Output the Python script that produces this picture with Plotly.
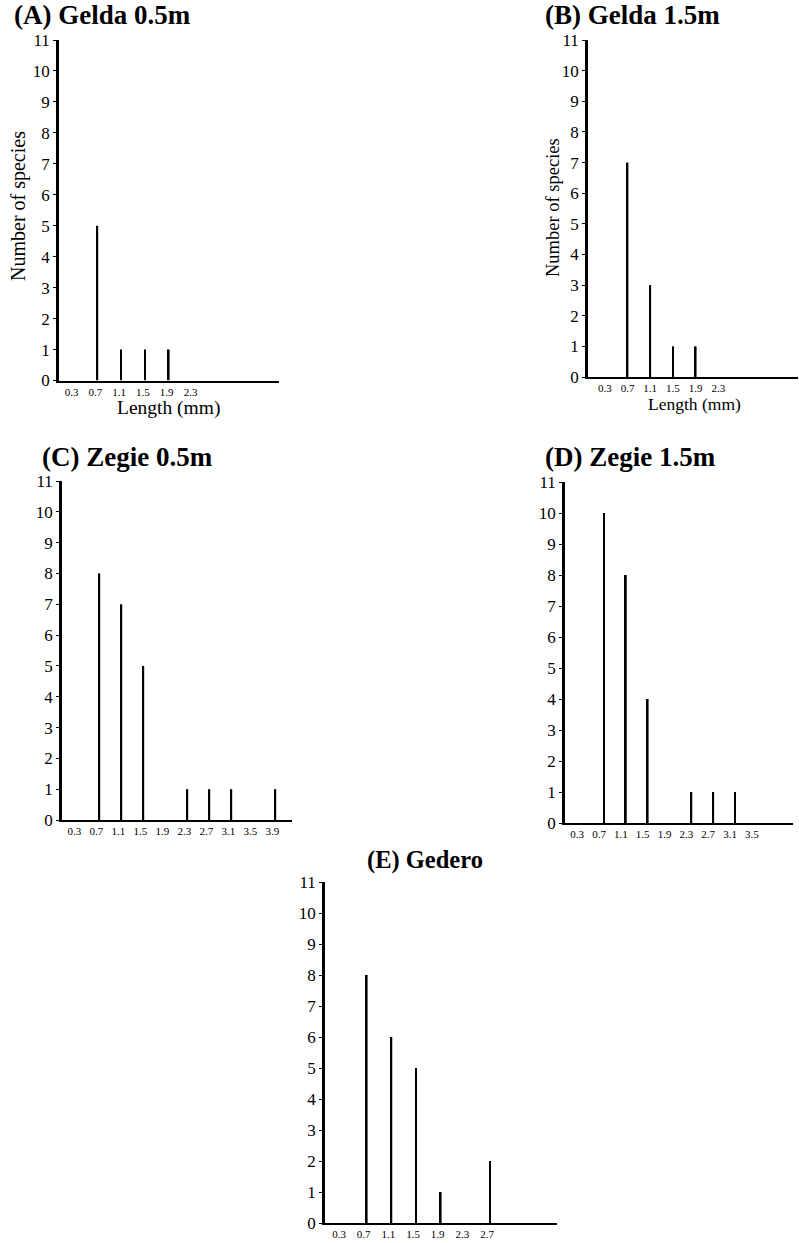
import plotly.graph_objects as go

W, H = 799, 1243

# ---------------- data ----------------
titles = ["(A) Gelda 0.5m", "(B) Gelda 1.5m", "(C) Zegie 0.5m", "(D) Zegie 1.5m", "(E) Gedero"]

a_length = [0.7, 1.1, 1.5, 1.9]
a_count = [5, 1, 1, 1]
b_length = [0.7, 1.1, 1.5, 1.9]
b_count = [7, 3, 1, 1]
c_length = [0.7, 1.1, 1.5, 2.3, 2.7, 3.1, 3.9]
c_count = [8, 7, 5, 1, 1, 1, 1]
d_length = [0.7, 1.1, 1.5, 2.3, 2.7, 3.1]
d_count = [10, 8, 4, 1, 1, 1]
e_length = [0.7, 1.1, 1.5, 1.9, 2.7]
e_count = [8, 6, 5, 1, 2]

ticks_ab = ["0.3", "0.7", "1.1", "1.5", "1.9", "2.3"]
ticks_c = ["0.3", "0.7", "1.1", "1.5", "1.9", "2.3", "2.7", "3.1", "3.5", "3.9"]
ticks_d = ["0.3", "0.7", "1.1", "1.5", "1.9", "2.3", "2.7", "3.1", "3.5"]
ticks_e = ["0.3", "0.7", "1.1", "1.5", "1.9", "2.3", "2.7"]
y_ticks = list(range(0, 12))

y_title = "Number of species"
x_title = "Length (mm)"

# ---------------- layout geometry (pixels) ----------------
panels = [
    dict(l=59, r=279, t=40, b=380.5, ppu=59.5, p07=97.3, shift=-2, x=a_length, y=a_count, ticks=ticks_ab),
    dict(l=588, r=798, t=40, b=377, ppu=56.8, p07=627.5, shift=0, x=b_length, y=b_count, ticks=ticks_ab),
    dict(l=62, r=292, t=481, b=820, ppu=55.0, p07=99.3, shift=-3, x=c_length, y=c_count, ticks=ticks_c),
    dict(l=565, r=793, t=482, b=823, ppu=54.6, p07=604, shift=-5, x=d_length, y=d_count, ticks=ticks_d),
    dict(l=325, r=557, t=882, b=1223, ppu=61.65, p07=366.7, shift=-3, x=e_length, y=e_count, ticks=ticks_e),
]

SERIF = "Liberation Serif, Times New Roman, serif"

fig = go.Figure()
layout = dict(
    width=W, height=H, margin=dict(l=0, r=0, t=0, b=0, pad=0),
    paper_bgcolor="white", plot_bgcolor="white", showlegend=False,
    font=dict(family=SERIF, color="black"),
)

for i, p in enumerate(panels, start=1):
    xs = "" if i == 1 else str(i)
    x0 = 0.7 - (p["p07"] - p["l"]) / p["ppu"]
    x1 = 0.7 + (p["r"] - p["p07"]) / p["ppu"]
    fig.add_trace(go.Bar(
        x=p["x"], y=p["y"], width=1.8 / p["ppu"],
        marker=dict(color="black", line=dict(width=0)),
        xaxis="x" + xs, yaxis="y" + xs, hoverinfo="x+y",
    ))
    tickvals = [float(t) for t in p["ticks"]]
    layout["xaxis" + xs] = dict(
        domain=[p["l"] / W, p["r"] / W], anchor="y" + xs, range=[x0, x1],
        showgrid=False, zeroline=False, showline=True, linecolor="black", linewidth=2,
        tickvals=tickvals, ticktext=p["ticks"], ticks="", ticklabelshift=p["shift"],
        tickfont=dict(family=SERIF, size=11, color="black"), automargin=False,
    )
    layout["yaxis" + xs] = dict(
        domain=[1 - p["b"] / H, 1 - p["t"] / H], anchor="x" + xs, range=[0, 11],
        showgrid=False, zeroline=False, showline=True, linecolor="black", linewidth=2.5,
        tickvals=y_ticks, ticks="outside", ticklen=3, tickwidth=1, tickcolor="black",
        tickfont=dict(family=SERIF, size=17, color="black"), automargin=False,
    )

annotations = []
title_pos = [(12, 15, "left", 27), (543, 15, "left", 27), (40, 457, "left", 27),
             (543, 457, "left", 27), (425, 860, "center", 24.5)]
for (tx, ty, anc, sz), txt in zip(title_pos, titles):
    annotations.append(dict(
        text="<b>" + txt + "</b>", x=tx / W, y=1 - ty / H, xref="paper", yref="paper",
        xanchor=anc, yanchor="middle", showarrow=False,
        font=dict(family=SERIF, size=sz, color="black"),
    ))
for (tx, ty, sz) in [(18, 206, 20), (553, 208, 18.5)]:
    annotations.append(dict(
        text=y_title, x=tx / W, y=1 - ty / H, xref="paper", yref="paper",
        xanchor="center", yanchor="middle", showarrow=False, textangle=-90,
        font=dict(family=SERIF, size=sz, color="black"),
    ))
for (tx, ty, sz) in [(168, 408, 19.5), (694, 404, 17.5)]:
    annotations.append(dict(
        text=x_title, x=tx / W, y=1 - ty / H, xref="paper", yref="paper",
        xanchor="center", yanchor="middle", showarrow=False,
        font=dict(family=SERIF, size=sz, color="black"),
    ))
layout["annotations"] = annotations
fig.update_layout(**layout)

post = (
    "var gd=document.getElementById('{plot_id}');"
    "document.documentElement.style.margin='0';document.documentElement.style.padding='0';"
    "document.documentElement.style.overflow='hidden';"
    "document.body.style.margin='0';document.body.style.padding='0';document.body.style.overflow='hidden';"
    "gd.style.position='absolute';gd.style.top='0px';gd.style.left='0px';"
)
fig.write_html("out.html", config={"displayModeBar": False}, post_script=post)
